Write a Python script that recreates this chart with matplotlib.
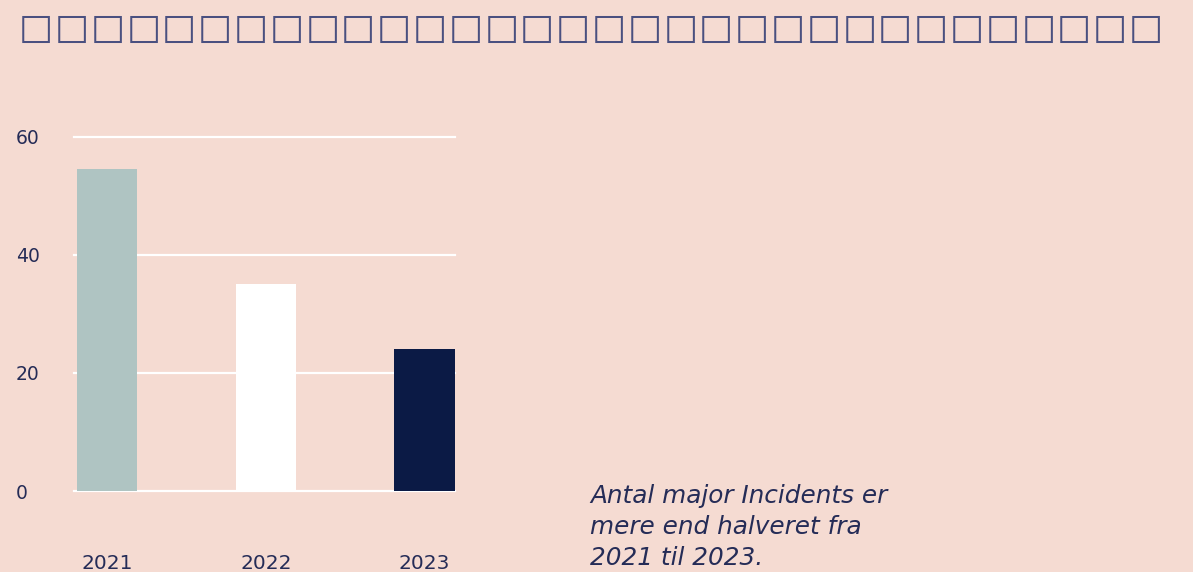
import matplotlib.pyplot as plt
import numpy as np

# data
years = ['2021', '2022', '2023']
incidents = [54.5, 35, 24]
bar_colors = ['#afc4c2', '#ffffff', '#0b1a45']
yticks = [0, 20, 40, 60]
title_chars = ['\u25a1'] * 32
note = 'Antal major Incidents er\nmere end halveret fra\n2021 til 2023.'

bg = '#f5dbd2'
navy = '#252c57'

plt.rcParams['font.family'] = ['DejaVu Sans']

fig = plt.figure(figsize=(11.93, 5.72), dpi=100, facecolor=bg)
ax = fig.add_axes([0.062, 0.1416, 0.319, 0.619], facecolor=bg)

x = np.arange(len(years))
ax.bar(x, incidents, width=0.38, color=bar_colors, zorder=2)

ax.set_xlim(-0.21, 2.19)
ax.set_ylim(0, 60)
ax.set_yticks(yticks)
ax.set_xticks(x, years)
for y in yticks:
    ax.axhline(y, color='white', lw=1.6, zorder=1, clip_on=False)

for s in ax.spines.values():
    s.set_visible(False)
ax.tick_params(axis='y', length=0, pad=42, labelsize=13.5, labelcolor=navy)
ax.tick_params(axis='x', length=0, pad=45, labelsize=14.5, labelcolor=navy)
for lab in ax.get_yticklabels():
    lab.set_horizontalalignment('left')

# title: a row of missing-glyph boxes
for i, ch in enumerate(title_chars):
    fig.text((19 + 35.8 * i) / 1193, 1 - 29 / 572, ch, fontsize=26,
             color='#4a5080', va='center', ha='left')

fig.text(590 / 1193, 1 - 484 / 572, note, fontsize=17.8, style='italic',
         color=navy, va='top', ha='left', linespacing=1.38)

fig.savefig('out.png', dpi=100, facecolor=bg)
